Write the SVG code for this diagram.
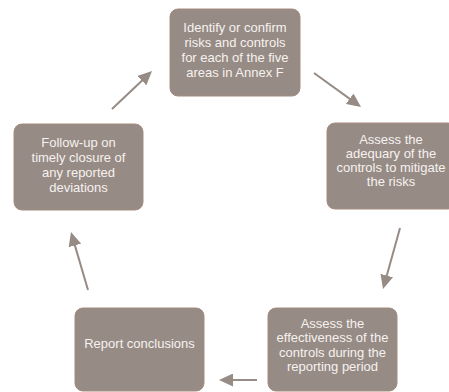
<svg xmlns="http://www.w3.org/2000/svg" width="449" height="392" viewBox="0 0 449 392">
<style>
.box{fill:#968b85;stroke:#a48c7f;stroke-width:1}
.t{font-family:"Liberation Sans",Arial,sans-serif;font-size:13px;fill:#f6f2ef;text-anchor:middle}
.c{stroke:#968b85;stroke-width:2;fill:none;marker-end:url(#ah)}
</style>
<defs>
<marker id="ah" markerUnits="userSpaceOnUse" markerWidth="15" markerHeight="13" refX="4" refY="6.5" orient="auto">
<path d="M0,0 L14,6.5 L0,13 z" fill="#968b85"/>
</marker>
</defs>
<rect width="449" height="392" fill="#ffffff"/>
<g id="connectors">
<line class="c" x1="314" y1="73" x2="352.9" y2="101.1"/>
<line class="c" x1="400" y1="228" x2="385.7" y2="279.4"/>
<line class="c" x1="257" y1="380" x2="229" y2="380"/>
<line class="c" x1="88" y1="290" x2="73.8" y2="241.6"/>
<line class="c" x1="112" y1="109" x2="144.75" y2="77.9"/>
</g>
<g id="n1">
<rect class="box" x="170" y="9" width="130" height="87" rx="8"/>
<text class="t"><tspan x="235" y="31.5">Identify or confirm</tspan><tspan x="235" y="46.5">risks and controls</tspan><tspan x="235" y="61.5">for each of the five</tspan><tspan x="235" y="76.5">areas in Annex F</tspan></text>
</g>
<g id="n2">
<rect class="box" x="327" y="123" width="129" height="86" rx="8"/>
<text class="t"><tspan x="391" y="143.5">Assess the</tspan><tspan x="391" y="157.5">adequary of the</tspan><tspan x="391" y="171.5">controls to mitigate</tspan><tspan x="391" y="185.5">the risks</tspan></text>
</g>
<g id="n3">
<rect class="box" x="268" y="308" width="129" height="83" rx="8"/>
<text class="t"><tspan x="332.5" y="327.5">Assess the</tspan><tspan x="332.5" y="342">effectiveness of the</tspan><tspan x="332.5" y="356.5">controls during the</tspan><tspan x="332.5" y="371">reporting period</tspan></text>
</g>
<g id="n4">
<rect class="box" x="75" y="308" width="129" height="83" rx="8"/>
<text class="t" x="139.5" y="347.5">Report conclusions</text>
</g>
<g id="n5">
<rect class="box" x="14" y="124" width="129" height="86" rx="8"/>
<text class="t"><tspan x="78.5" y="146.5">Follow-up on</tspan><tspan x="78.5" y="161.5">timely closure of</tspan><tspan x="78.5" y="176.5">any reported</tspan><tspan x="78.5" y="191.5">deviations</tspan></text>
</g>
</svg>
